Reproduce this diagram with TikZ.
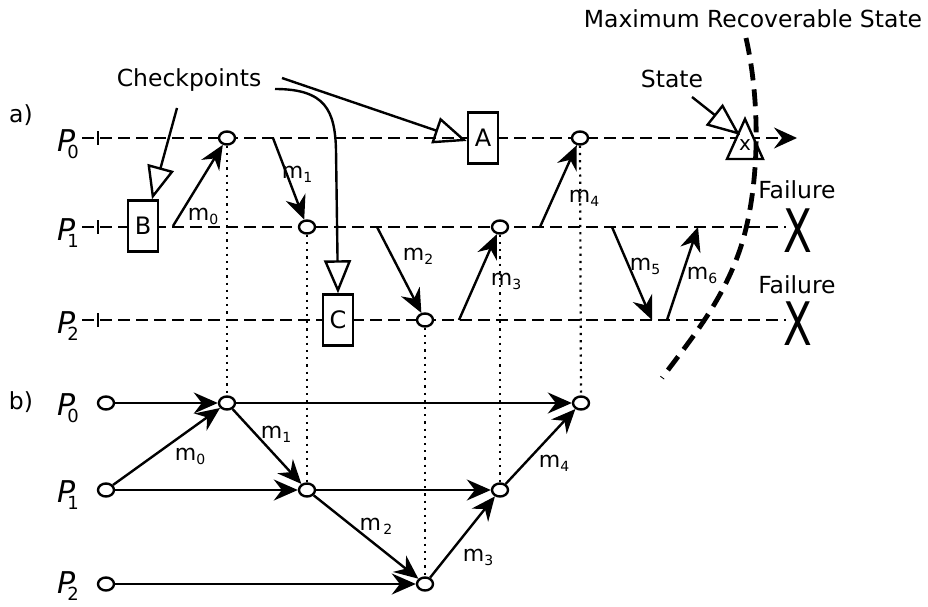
\documentclass[tikz,border=0pt]{standalone}
\usepackage{fontspec}
\setmainfont{DejaVu Sans}
\usetikzlibrary{arrows.meta,shapes.geometric}
\newcommand\fsz[1]{\fontsize{#1}{#1}\selectfont}
\newcommand\plab[1]{{\fsz{30}\itshape P}\kern-8pt\raisebox{-7pt}{\fsz{18}#1}}
\newcommand\msub[1]{{\fsz{22}m}\raisebox{-4pt}{\fsz{14}#1}}
\begin{document}
\begin{tikzpicture}[x=1pt,y=-1pt,
  tl/.style={line width=2.4pt, dash pattern=on 12pt off 6pt},
  tick/.style={line width=2.4pt},
  msg/.style={line width=2.4pt, -{Stealth[length=24pt,width=21pt,inset=8pt]}},
  ptr/.style={line width=2.4pt, -{Triangle[open,length=33pt,width=27pt]}},
  ev/.style={ellipse, draw, line width=2.4pt, fill=white, minimum width=16pt, minimum height=13pt, inner sep=0pt},
  ckb/.style={draw, line width=2.4pt, fill=white, minimum width=30pt, minimum height=51pt, inner sep=0pt, font=\fsz{24}},
  dotl/.style={line width=2.2pt, dash pattern=on 2.2pt off 5pt},
  txt/.style={font=\fsz{23.5}, inner sep=0pt},
  plb/.style={anchor=base west, inner sep=0pt},
  mlb/.style={inner sep=0pt},
  maxs/.style={line width=4.8pt, dash pattern=on 17pt off 9pt}
]
\useasboundingbox (0,0) rectangle (928,607);

% ---------- part a) ----------
\node[txt] (la) at (21,115) {a)};
\node[plb] (pa0) at (57,151) {\plab{0}};
\node[plb] (pa1) at (57,240) {\plab{1}};
\node[plb] (pa2) at (57,333) {\plab{2}};

\coordinate (s0) at (82,138); \coordinate (e0) at (797,138);
\coordinate (s1) at (82,227); \coordinate (e1) at (786,227);
\coordinate (s2) at (82,320); \coordinate (e2) at (786,320);
\draw[tl,-{Stealth[length=23pt,width=21pt,inset=8pt]}] (s0) -- (e0);
\draw[tl] (s1) -- (e1);
\draw[tl] (s2) -- (e2);
\coordinate (t0a) at (98,131); \coordinate (t0b) at (98,145);
\coordinate (t1a) at (98,220); \coordinate (t1b) at (98,234);
\coordinate (t2a) at (98,313); \coordinate (t2b) at (98,327);
\draw[tick] (t0a) -- (t0b);
\draw[tick] (t1a) -- (t1b);
\draw[tick] (t2a) -- (t2b);

\node[ev] (a01) at (227,138) {};
\node[ev] (a02) at (580,138) {};
\node[ev] (a11) at (307,227) {};
\node[ev] (a12) at (500,227) {};
\node[ev] (a21) at (425,320) {};

\node[ckb] (B) at (143,226) {B};
\node[ckb] (A) at (483,138) {A};
\node[ckb] (C) at (338,320) {C};

% state triangle
\coordinate (sta) at (745,119);
\coordinate (stb) at (763,159);
\coordinate (stc) at (727,159);
\draw[line width=2.4pt, fill=white] (sta) -- (stb) -- (stc) -- cycle;
\node[inner sep=0pt, font=\fsz{20}] (sx) at (745,145) {x};

% messages in a)
\coordinate (m0s) at (173,226);
\coordinate (m1s) at (273,138);
\coordinate (m2s) at (377,227);
\coordinate (m3s) at (459,320);
\coordinate (m4s) at (540,227);
\coordinate (m5s) at (612,227); \coordinate (m5e) at (652,320);
\coordinate (m6s) at (667,320); \coordinate (m6e) at (698,227);
\draw[msg] (m0s) -- (a01);
\draw[msg] (m1s) -- (a11);
\draw[msg] (m2s) -- (a21);
\draw[msg] (m3s) -- (a12);
\draw[msg] (m4s) -- (a02);
\draw[msg] (m5s) -- (m5e);
\draw[msg] (m6s) -- (m6e);
\node[mlb] (la0) at (203,216) {\msub{0}};
\node[mlb] (la1) at (297,174) {\msub{1}};
\node[mlb] (la2) at (418,256) {\msub{2}};
\node[mlb] (la3) at (506,281) {\msub{3}};
\node[mlb] (la4) at (584,198) {\msub{4}};
\node[mlb] (la5) at (645,266) {\msub{5}};
\node[mlb] (la6) at (702,275) {\msub{6}};

% checkpoints
\node[txt, anchor=base] (cp) at (189,87) {Checkpoints};
\coordinate (c1) at (177,108);
\coordinate (c2) at (282,78);
\coordinate (c3) at (275,89);
\coordinate (c3m) at (336,150);
\draw[ptr] (c1) -- ([xshift=9pt]B.north);
\draw[ptr] (c2) -- ([yshift=-3pt]A.west);
\draw[ptr] (c3) .. controls (325,89) and (335,110) .. (c3m) -- (C.north);

% state
\node[txt, anchor=base] (stl) at (672,88) {State};
\coordinate (sts) at (692,97);
\coordinate (ste) at (740,135);
\draw[ptr] (sts) -- (ste);

% failures
\node[txt, anchor=base] (f1) at (797,198) {Failure};
\node[txt, anchor=base] (f2) at (797,293) {Failure};
\node[inner sep=0pt] (x1) at (798,231) {\scalebox{1.05}[1.5]{\fsz{40}X}};
\node[inner sep=0pt] (x2) at (798,324) {\scalebox{1.05}[1.5]{\fsz{40}X}};

% maximum recoverable state
\node[txt, anchor=base] (mx) at (753,28) {Maximum Recoverable State};
\coordinate (q0) at (746,38);
\coordinate (q1) at (743,240);
\coordinate (q2) at (662,378);
\draw[maxs] (q0) .. controls (760,100) and (760,180) .. (q1) .. controls (725,300) and (690,340) .. (q2);

% ---------- part b) ----------
\node[txt] (lb) at (21,402) {b)};
\node[plb] (pb0) at (57,415) {\plab{0}};
\node[plb] (pb1) at (57,502) {\plab{1}};
\node[plb] (pb2) at (57,593) {\plab{2}};

\node[ev] (b00) at (106,403) {};
\node[ev] (b01) at (227,403) {};
\node[ev] (b02) at (581,403) {};
\node[ev] (b10) at (106,490) {};
\node[ev] (b11) at (307,490) {};
\node[ev] (b12) at (500,490) {};
\node[ev] (b20) at (106,584) {};
\node[ev] (b21) at (425,584) {};

\draw[msg] (b00) -- (b01);
\draw[msg] (b01) -- (b02);
\draw[msg] (b10) -- (b11);
\draw[msg] (b11) -- (b12);
\draw[msg] (b20) -- (b21);
\draw[msg] (b10) -- (b01);
\draw[msg] (b01) -- (b11);
\draw[msg] (b11) -- (b21);
\draw[msg] (b21) -- (b12);
\draw[msg] (b12) -- (b02);
\node[mlb] (lb0) at (190,456) {\msub{0}};
\node[mlb] (lb1) at (276,434) {\msub{1}};
\node[mlb] (lb2) at (376,526) {\msub{\,2}};
\node[mlb] (lb3) at (478,557) {\msub{3}};
\node[mlb] (lb4) at (554,463) {\msub{4}};

% dotted links
\draw[dotl] (a01) -- (b01);
\draw[dotl] (a11) -- (b11);
\draw[dotl] (a21) -- (b21);
\draw[dotl] (a12) -- (b12);
\draw[dotl] (a02) -- (b02);
\end{tikzpicture}
\end{document}
